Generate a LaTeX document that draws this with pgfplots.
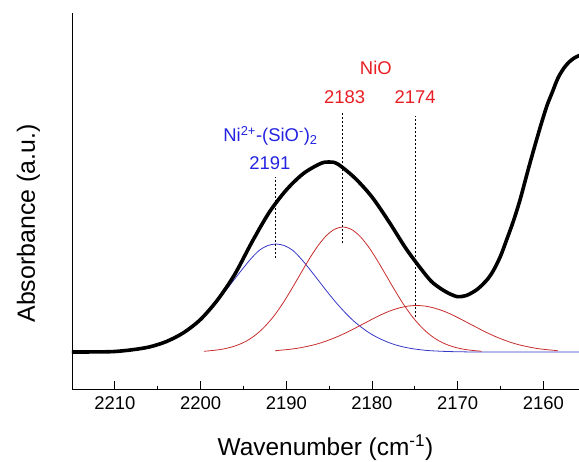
\documentclass[border=0pt]{standalone}
\usepackage{pgfplots}
\pgfplotsset{compat=1.18}
\usepackage{fontspec}
\setmainfont{Liberation Sans}
\definecolor{cblue}{RGB}{55,55,200}
\definecolor{cred}{RGB}{200,45,45}
\definecolor{tred}{RGB}{232,30,36}
\definecolor{tblue}{RGB}{35,35,225}
\begin{document}
\begin{tikzpicture}
\begin{axis}[
  name=ax,
  scale only axis,
  width=507bp, height=376bp,
  xmin=2155.85, xmax=2215,
  ymin=-37, ymax=339,
  x dir=reverse,
  axis x line*=bottom, axis y line*=left,
  axis line style={line width=0.9bp, black},
  xtick={2160,2170,2180,2190,2200,2210},
  minor x tick num=1,
  ytick=\empty,
  tick align=inside,
  major tick length=7.7bp, minor tick length=3.5bp,
  every tick/.style={black, line width=0.9bp},
  /pgf/number format/1000 sep={},
  /pgf/number format/assume math mode=true,
  tick label style={font=\fontsize{18.5}{20}\selectfont},
  xticklabel style={yshift=-4.5bp},
  xlabel={Wavenumber (cm\textsuperscript{-1})},
  ylabel={Absorbance (a.u.)},
  xlabel style={at={(axis description cs:0.5,0)}, anchor=base, yshift=-66bp, font=\fontsize{24.5}{27}\selectfont},
  ylabel style={at={(axis description cs:-0.073,0.44)}, anchor=base, font=\fontsize{25}{28}\selectfont},
  clip=true,
]
% blue component Ni2+-(SiO-)2, 2191 (with baseline)
\addplot[cblue, line width=0.8bp, smooth, tension=0.5] coordinates {
(2215.2,0) (2213.2,0.15) (2211.2,0.5) (2209.2,1.3) (2208.2,2.1) (2207.2,3.2)
(2206.2,4.8) (2205.2,7) (2204.2,10) (2203.2,13.8) (2202.2,18.5) (2201.2,24.5)
(2200.2,31.5) (2199.2,40) (2198.2,49.5) (2197.2,60) (2196.2,71) (2195.2,82)
(2194.2,92.5) (2193.2,101.3) (2192.2,106.3) (2191.2,108) (2190.2,106.3)
(2189.2,101.3) (2188.2,92.5) (2187.2,82) (2186.2,71) (2185.2,60) (2184.2,49.5)
(2183.2,40) (2182.2,31.5) (2181.2,24.5) (2180.2,18.5) (2179.2,13.8) (2178.2,10)
(2177.2,7) (2176.2,4.8) (2175.2,3.2) (2174.2,2.1) (2173.2,1.3) (2171.2,0.5)
(2169.2,0.15) (2167.2,0) (2155,0)
};
% red component NiO 2183
\addplot[cred, line width=0.8bp, smooth, tension=0.5] coordinates {
(2199.6,0.7) (2198.4,1.7) (2197.4,2.9) (2196.4,4.9) (2195.4,7.9) (2194.4,12.2)
(2193.4,18.3) (2192.4,26.4) (2191.4,36.5) (2190.4,48.7) (2189.4,62.6)
(2188.4,77.3) (2187.4,91.9) (2186.4,105.1) (2185.4,115.7) (2184.4,122.6)
(2183.4,125) (2182.4,122.6) (2181.4,115.7) (2180.4,105.1) (2179.4,91.9)
(2178.4,77.3) (2177.4,62.6) (2176.4,48.7) (2175.4,36.5) (2174.4,26.4)
(2173.4,18.3) (2172.4,12.2) (2171.4,7.9) (2170.4,4.9) (2169.4,2.9)
(2168.4,1.7) (2167.2,0.7)
};
% red component NiO 2174
\addplot[cred, line width=0.8bp, smooth, tension=0.5] coordinates {
(2191.3,1.2) (2190.8,1.7) (2189.8,2.5) (2188.8,3.6) (2187.8,5.2) (2186.8,7.1)
(2185.8,9.6) (2184.8,12.7) (2183.8,16.2) (2182.8,20.2) (2181.8,24.6)
(2180.8,29.1) (2179.8,33.6) (2178.8,37.8) (2177.8,41.4) (2176.8,44.1)
(2175.8,45.9) (2174.8,46.5) (2173.8,45.9) (2172.8,44.1) (2171.8,41.4)
(2170.8,37.8) (2169.8,33.6) (2168.8,29.1) (2167.8,24.6) (2166.8,20.2)
(2165.8,16.2) (2164.8,12.7) (2163.8,9.6) (2162.8,7.1) (2161.8,5.2)
(2160.8,3.6) (2159.8,2.5) (2158.8,1.7) (2158.3,1.2)
};
% measured spectrum
\addplot[black, line width=3.6bp, smooth, tension=0.5] coordinates {
(2215.5,0) (2212,0.1) (2210,0.5) (2208,2.2) (2206,5) (2204,10.4) (2202,19.2)
(2200,32.6) (2198,52.3) (2196,77.8) (2194,110) (2192,139.5) (2190,162)
(2188,178.5) (2186,188.5) (2185,190) (2184,188) (2182,174) (2180,155)
(2178,130) (2176,103) (2174,80) (2173,70) (2172,63.5) (2171,58.5)
(2170,55.3) (2169,56.5) (2168,61) (2167.4,65) (2166.5,73) (2165.8,82)
(2165,96) (2164.3,112) (2163.5,131) (2162.7,153) (2161.6,188) (2160.4,224)
(2159.6,246) (2159,259) (2158.3,274) (2157.6,284) (2157,290) (2156.4,294)
(2155.8,296.5) (2155.3,297.5)
};
% dotted markers
\addplot[black, line width=0.9bp, dash pattern=on 2bp off 2bp] coordinates {(2191.3,94) (2191.3,175.3)};
\addplot[black, line width=0.9bp, dash pattern=on 2bp off 2bp] coordinates {(2183.45,108.7) (2183.45,240.3)};
\addplot[black, line width=0.9bp, dash pattern=on 2bp off 2bp] coordinates {(2174.95,35.3) (2174.95,236)};
% annotations
\node[anchor=base, text=tred, font=\fontsize{18.5}{20}\selectfont] at (axis cs:2179.55,277.7) {NiO};
\node[anchor=base, text=tred, font=\fontsize{18.5}{20}\selectfont] at (axis cs:2183.2,248.7) {2183};
\node[anchor=base, text=tred, font=\fontsize{18.5}{20}\selectfont] at (axis cs:2174.98,248.7) {2174};
\node[anchor=base, text=tblue, font=\fontsize{18.5}{20}\selectfont] at (axis cs:2191.84,210.3) {Ni\textsuperscript{2+}-(SiO\textsuperscript{-})\textsubscript{2}};
\node[anchor=base, text=tblue, font=\fontsize{18.5}{20}\selectfont] at (axis cs:2191.9,182.7) {2191};
\end{axis}
\pgfresetboundingbox
\path ([xshift=-72bp,yshift=-73bp]ax.south west) rectangle ([yshift=13bp]ax.north east);
\end{tikzpicture}
\end{document}
